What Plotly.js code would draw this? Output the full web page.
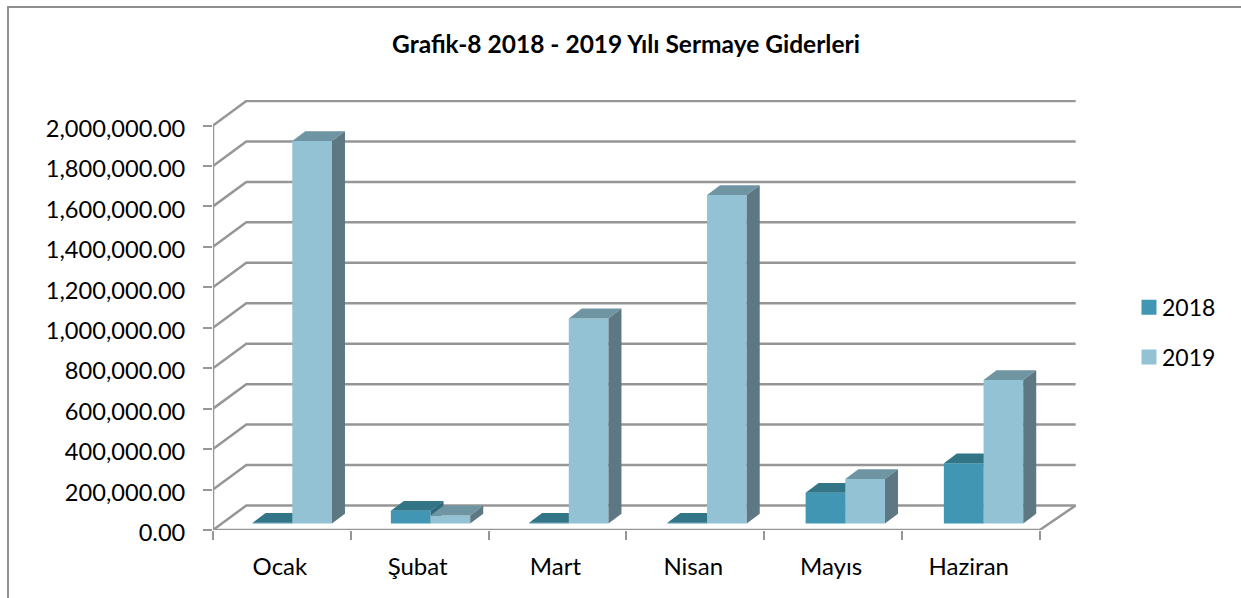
<!DOCTYPE html>
<html>
<head>
<meta charset="utf-8">
<script src="https://cdn.plot.ly/plotly-3.0.1.min.js"></script>
<style>
html,body{margin:0;padding:0;background:#fff;overflow:hidden}
#chart{position:absolute;left:0;top:0;width:1241px;height:598px}
#frame{position:absolute;left:7px;top:6px;width:1240px;height:600px;border-left:2px solid #8f8f8f;border-top:2px solid #8f8f8f;pointer-events:none}
</style>
</head>
<body>
<div id="chart"></div>
<div id="frame"></div>
<script>
const categories = ["Ocak", "Şubat", "Mart", "Nisan", "Mayıs", "Haziran"];
const values2018 = [4000, 63000, 4000, 4000, 152000, 298000];
const values2019 = [1891000, 40000, 1014000, 1624000, 220000, 709000];
const yTicks = [0, 200000, 400000, 600000, 800000, 1000000, 1200000, 1400000, 1600000, 1800000, 2000000];

const FONT = "Lato, Carlito, sans-serif";
const pxX = 137.83;                // pixels per category on the front edge
const pxY = 404.5 / 2000000;       // pixels per unit
const wallDX = 33.3 / pxX, wallDXRight = 36 / pxX, wallDY = 24.5 / pxY;
const barDX = 13 / pxX, barDY = 9.8 / pxY;
const barW = 39.7 / pxX, barShift = 10.4 / pxX, barBase = 6.5 / pxY;
const barStep = 138.3 / pxX;       // bars sit deeper in the box, so spaced slightly wider
const xRange = [-0.5, -0.5 + (1076 - 212.7) / pxX];
const yRange = [0, 430 / pxY];
const xStart = -0.5, xEnd = categories.length - 0.5;

// frame (walls, floor, axis)
const gx = [], gy = [];
yTicks.forEach(v => {
  gx.push(xStart, xStart + wallDX, xEnd + wallDXRight, null);
  gy.push(v, v + wallDY, v + wallDY, null);
});
gx.push(xStart, xStart, null, xStart, xEnd, xEnd + wallDXRight, null);
gy.push(0, yTicks[yTicks.length - 1], null, 0, 0, wallDY, null);

const barX = categories.map((_, i) => i * barStep + barShift);
function faces(vals, lo, hi) {
  const t = {x: [], y: []}, s = {x: [], y: []};
  vals.forEach((v, i) => {
    const L = barX[i] + lo, R = barX[i] + hi, top = barBase + v;
    t.x.push(L, L + barDX, R + barDX, R, L, null);
    t.y.push(top, top + barDY, top + barDY, top, top, null);
    s.x.push(R, R + barDX, R + barDX, R, R, null);
    s.y.push(top, top + barDY, barBase + barDY, barBase, top, null);
  });
  return {t, s};
}
function series(name, vals, lo, hi, cFront, cTop, cSide, xa, ya) {
  const f = faces(vals, lo, hi);
  return [
    {type: "bar", name, x: barX, y: vals,
     base: vals.map(() => barBase), width: barW, offset: lo,
     marker: {color: cFront, line: {width: 0}}, xaxis: xa, yaxis: ya, showlegend: false, hoverinfo: "skip"},
    {type: "scatter", mode: "none", fill: "toself", fillcolor: cTop, x: f.t.x, y: f.t.y,
     xaxis: xa, yaxis: ya, showlegend: false, hoverinfo: "skip"},
    {type: "scatter", mode: "none", fill: "toself", fillcolor: cSide, x: f.s.x, y: f.s.y,
     xaxis: xa, yaxis: ya, showlegend: false, hoverinfo: "skip"}
  ];
}
const C18 = "#4197b3", C19 = "#94c2d5";
const data = [
  {type: "scatter", mode: "lines", x: gx, y: gy, cliponaxis: false,
   line: {color: "#969696", width: 2.5}, showlegend: false, hoverinfo: "skip", xaxis: "x", yaxis: "y"},
  {type: "scatter", mode: "markers", name: "2018", x: [null], y: [null], legendgroup: "a",
   marker: {symbol: "square", size: 15, color: C18}, xaxis: "x", yaxis: "y"},
  {type: "scatter", mode: "markers", name: "2019", x: [null], y: [null], legendgroup: "b",
   marker: {symbol: "square", size: 15, color: C19}, xaxis: "x", yaxis: "y"},
  ...series("2018", values2018, -barW, 0, C18, "#317587", "#2e6a7c", "x2", "y2"),
  ...series("2019", values2019, 0, barW, C19, "#6f95a3", "#5d7883", "x3", "y3")
];

const hiddenX = {range: xRange, overlaying: "x", showgrid: false, zeroline: false, showline: false, fixedrange: true};
const hiddenY = {range: yRange, overlaying: "y", showgrid: false, zeroline: false, showline: false,
                 showticklabels: false, ticks: "", fixedrange: true};
const layout = {
  width: 1241, height: 598,
  margin: {l: 212.7, r: 165, t: 100, b: 68, pad: 0},
  paper_bgcolor: "#fff", plot_bgcolor: "rgba(0,0,0,0)",
  showlegend: true, barmode: "overlay",
  font: {family: FONT, color: "#000", size: 22},
  title: {text: "<b>Grafik-8 2018 - 2019 Yılı Sermaye Giderleri</b>",
          font: {family: FONT, size: 24.5, color: "#000"},
          x: 626 / 1241, xref: "container", xanchor: "center",
          y: 1 - 44 / 598, yref: "container", yanchor: "middle"},
  xaxis: {range: xRange, tickmode: "array",
          tickvals: [...categories.map((_, i) => i - 0.5), categories.length - 0.5],
          ticktext: [...categories.map(() => ""), ""],
          ticks: "outside", ticklen: 9, tickwidth: 2, tickcolor: "#969696",
          showgrid: false, zeroline: false, showline: false, fixedrange: true},
  yaxis: {range: yRange, tickmode: "array", tickvals: yTicks, tickformat: ",.2f",
          ticks: "outside", ticklen: 9, tickwidth: 2, tickcolor: "#969696",
          ticklabelstandoff: 13, ticklabelshift: 3, tickfont: {family: FONT, size: 23.6, color: "#000"},
          showgrid: false, zeroline: false, showline: false, fixedrange: true},
  xaxis2: {...hiddenX, tickmode: "array", tickvals: categories.map((_, i) => i), ticktext: categories,
           ticks: "", ticklabelstandoff: 20, ticklabelshift: -2, tickfont: {family: FONT, size: 24, color: "#000"}, anchor: "y2", side: "bottom"},
  yaxis2: {...hiddenY, anchor: "x2"},
  xaxis3: {...hiddenX, showticklabels: false, ticks: "", anchor: "y3"},
  yaxis3: {...hiddenY, anchor: "x3"},
  legend: {x: (1122 - 212.7) / (1076 - 212.7), xanchor: "left", y: 0.46, yanchor: "middle",
           font: {family: FONT, size: 23, color: "#000"}, tracegroupgap: 17, bgcolor: "rgba(0,0,0,0)"}
};
Plotly.newPlot("chart", data, layout, {displayModeBar: false, staticPlot: true}).then(gd => {
  // reference swatches sit closer to their labels than Plotly's fixed legend gap
  gd.querySelectorAll(".legend .legendpoints").forEach(n => n.setAttribute("transform", "translate(7,0)"));
});
</script>
</body>
</html>
